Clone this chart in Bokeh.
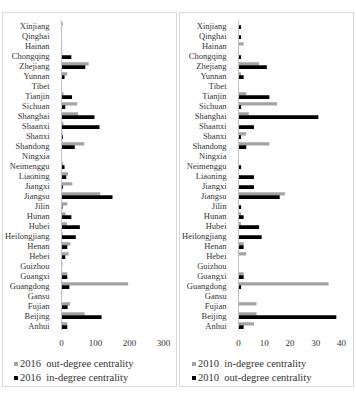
from bokeh.plotting import figure
from bokeh.models import ColumnDataSource, Range1d, FixedTicker, Legend, LegendItem
from bokeh.layouts import row
from bokeh.embed import file_html
from bokeh.resources import INLINE

provinces = ["Anhui", "Beijing", "Fujian", "Gansu", "Guangdong", "Guangxi", "Guizhou", "Hebei",
             "Henan", "Heilongjiang", "Hubei", "Hunan", "Jilin", "Jiangsu", "Jiangxi", "Liaoning",
             "Neimenggu", "Ningxia", "Shandong", "Shanxi", "Shaanxi", "Shanghai", "Sichuan",
             "Tianjin", "Tibet", "Yunnan", "Zhejiang", "Chongqing", "Hainan", "Qinghai", "Xinjiang"]

out_2016 = [17, 68, 25, 1, 196, 17, 3, 21, 26, 3, 16, 12, 17, 114, 32, 19,
            5, 0, 67, 3, 6, 49, 46, 6, 0, 17, 80, 2, 2, 0, 4]
in_2016 = [17, 118, 18, 0, 23, 17, 0, 11, 17, 42, 54, 29, 3, 150, 4, 14,
           9, 0, 39, 4, 112, 97, 11, 31, 0, 9, 70, 29, 0, 0, 1]

in_2010 = [6, 7, 7, 0, 35, 2, 0, 3, 2, 0, 1, 1, 0, 18, 0, 0,
           0, 0, 12, 3, 0, 4, 15, 3, 0, 1, 8, 0, 2, 0, 0]
out_2010 = [2, 38, 0, 0, 1, 2, 0, 0, 2, 9, 8, 2, 1, 16, 6, 6,
            1, 0, 3, 1, 6, 31, 1, 12, 0, 2, 11, 1, 0, 1, 1]

ticks_2016 = [0, 100, 200, 300]
ticks_2010 = [0, 10, 20, 30, 40]

GRAY = "#a3a3a3"
BLACK = "#000000"
FONT = "Liberation Serif"
TXT = "#333333"

W, H = 175, 375
AXIS_PX = 59          # pixel position of the value axis inside the panel
Y_LO, Y_HI = -6.2, 31.3


def panel(gray_vals, black_vals, gray_label, black_label, ticks, xmax, plot_px, leg_x):
    n = len(provinces)
    idx = list(range(n))
    src = ColumnDataSource(dict(
        yg=[i + 0.165 for i in idx], yb=[i - 0.165 for i in idx],
        g=gray_vals, b=black_vals))
    scale = plot_px / xmax
    p = figure(width=W, height=H, output_backend="svg", toolbar_location=None,
               x_range=Range1d(-AXIS_PX / scale, (W - AXIS_PX) / scale),
               y_range=Range1d(Y_LO, Y_HI),
               min_border=0, min_border_left=0, min_border_right=0,
               min_border_top=0, min_border_bottom=0)
    p.outline_line_color = "#d9d9d9"
    p.grid.visible = False
    rg = p.hbar(y="yg", right="g", height=0.33, source=src, color=GRAY, line_color=None)
    rb = p.hbar(y="yb", right="b", height=0.36, source=src, color=BLACK, line_color=None)

    xa = p.xaxis[0]
    xa.fixed_location = -0.5
    xa.bounds = (0, xmax)
    xa.ticker = FixedTicker(ticks=ticks)
    xa.axis_line_color = None
    xa.major_tick_line_color = None
    xa.minor_tick_line_color = None
    xa.major_label_standoff = 3
    xa.major_label_text_font_size = "9px"

    ya = p.yaxis[0]
    ya.fixed_location = 0
    ya.bounds = (-0.5, n - 0.5)
    ya.ticker = FixedTicker(ticks=idx)
    ya.major_label_overrides = {i: provinces[i] for i in idx}
    ya.axis_line_color = "#bfbfbf"
    ya.major_tick_line_color = None
    ya.minor_tick_line_color = None
    ya.major_label_standoff = 6
    ya.major_label_text_font_size = "8.5px"

    for ax in (xa, ya):
        ax.major_label_text_font = FONT
        ax.major_label_text_color = TXT

    leg = Legend(items=[LegendItem(label=gray_label, renderers=[rg]),
                        LegendItem(label=black_label, renderers=[rb])],
                 location=(leg_x, 4), orientation="vertical",
                 glyph_width=5, glyph_height=5, label_standoff=2, spacing=3,
                 label_height=10, padding=0, margin=0,
                 border_line_color=None, background_fill_alpha=0,
                 label_text_font=FONT, label_text_font_size="10.5px", label_text_color=TXT)
    p.add_layout(leg, "center")
    return p


p1 = panel(out_2016, in_2016, "2016  out-degree centrality", "2016  in-degree centrality",
           ticks_2016, 300, 102, 11)
p2 = panel(in_2010, out_2010, "2010  in-degree centrality", "2010  out-degree centrality",
           ticks_2010, 40, 103, 12)
p1.margin = (12, 0, 0, 2)
p2.margin = (12, 0, 0, 2)

layout = row(p1, p2)
open("out.html", "w").write(file_html(layout, INLINE))
